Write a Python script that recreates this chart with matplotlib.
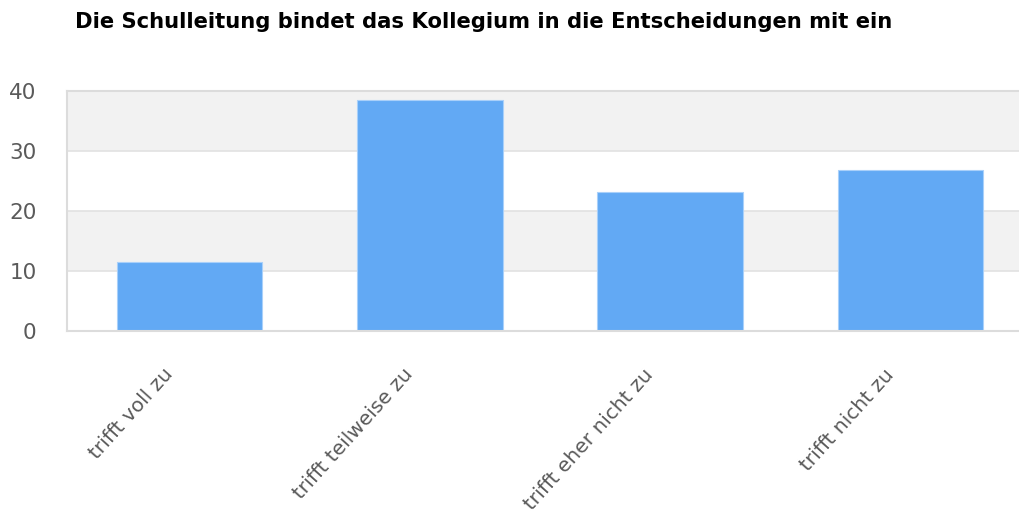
import matplotlib.pyplot as plt
from matplotlib.transforms import ScaledTranslation

plt.rcParams['font.family'] = 'DejaVu Sans'

categories = ['trifft voll zu', 'trifft teilweise zu', 'trifft eher nicht zu', 'trifft nicht zu']
values = [11.5, 38.5, 23.1, 26.9]
yticks = [0, 10, 20, 30, 40]
title = 'Die Schulleitung bindet das Kollegium in die Entscheidungen mit ein'

fig = plt.figure(figsize=(10.2, 5.2), dpi=100)
ax = fig.add_axes([67 / 1020, 189 / 520, 953 / 1020, 240 / 520])

# alternating background bands
for i, lo in enumerate(yticks[:-1]):
    if i % 2 == 1:
        ax.axhspan(lo, yticks[i + 1], color='#f2f2f2', zorder=0, lw=0)
for y in yticks[1:-1]:
    ax.axhline(y, color='#e2e2e2', lw=1.2, zorder=1)

x = range(len(categories))
ax.bar(x, values, width=0.605, color='#62a9f4', edgecolor='#a9d0fa', linewidth=0.8, zorder=2)

ax.set_xlim(-0.51, 3.456)
ax.set_ylim(0, 40)
ax.set_yticks(yticks)
ax.set_xticks(list(x))
ax.set_xticklabels(categories)

for side in ['left', 'top', 'bottom']:
    ax.spines[side].set_color('#dcdcdc')
    ax.spines[side].set_linewidth(1.5)
ax.spines['right'].set_visible(False)

ax.tick_params(axis='y', length=0, pad=22, labelsize=15.5, labelcolor='#5a5a5a')
ax.tick_params(axis='x', length=0, pad=0, labelsize=14.5, labelcolor='#5a5a5a')
offset = ScaledTranslation(-0.27, -0.34, fig.dpi_scale_trans)
for lbl in ax.get_xticklabels():
    lbl.set_rotation(48)
    lbl.set_ha('right')
    lbl.set_va('top')
    lbl.set_rotation_mode('anchor')
    lbl.set_transform(lbl.get_transform() + offset)

fig.text(75 / 1020, 1 - 28 / 520, title, fontsize=15.2, fontweight='bold',
         va='baseline', ha='left')

fig.savefig('out.png', dpi=100)
